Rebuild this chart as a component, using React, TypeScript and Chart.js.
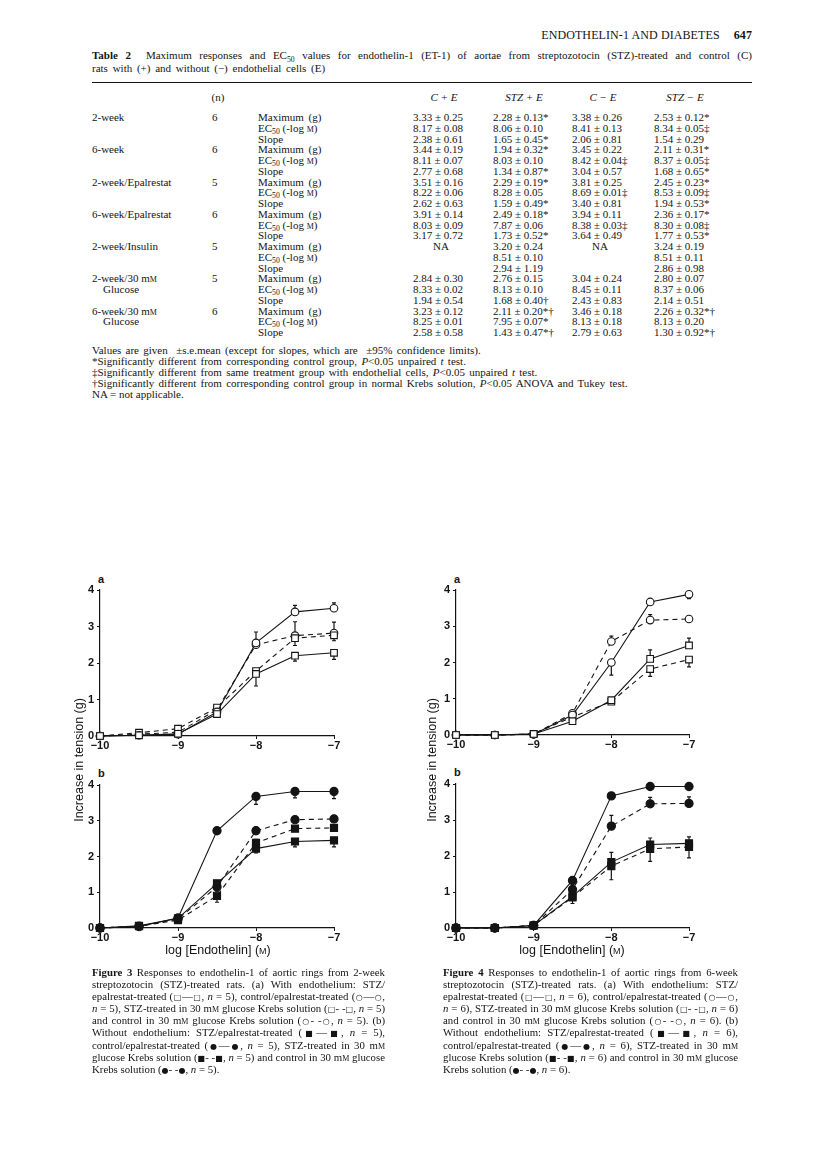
import React, { useEffect, useRef } from "react";
import { Chart, registerables } from "chart.js";
Chart.register(...registerables);

// ---------- chart data ----------
const logConc = [-10, -9.5, -9, -8.5, -8, -7.5, -7];
const xTickValues = [-10, -9, -8, -7];
const yTickValues = [0, 1, 2, 3, 4];

// Figure 3a: 2-week, with endothelium (signed error: + up, - down)
const f3aStzEpal = [0, 0.02, 0.06, 0.6, 1.7, 2.2, 2.28];
const f3aStzEpalErr = [0, 0, 0, 0, -0.33, -0.15, -0.18];
const f3aConEpal = [0, 0.02, 0.05, 0.66, 2.55, 3.4, 3.5];
const f3aConEpalErr = [0, 0, 0, 0, 0.3, 0.18, 0.15];
const f3aStzGlu = [0, 0.09, 0.2, 0.78, 1.78, 2.68, 2.76];
const f3aStzGluErr = [0, 0, 0, 0, 0, -0.2, -0.15];
const f3aConGlu = [0, 0.05, 0.1, 0.72, 2.5, 2.75, 2.82];
const f3aConGluErr = [0, 0, 0, 0, 0, 0.38, 0.3];

// Figure 3b: 2-week, without endothelium
const f3bStzEpal = [0, 0.06, 0.27, 1.25, 2.22, 2.42, 2.45];
const f3bStzEpalErr = [0, 0, 0, -0.12, -0.12, -0.15, -0.18];
const f3bConEpal = [0, 0.04, 0.28, 2.72, 3.68, 3.82, 3.82];
const f3bConEpalErr = [0, 0, 0, -0.1, -0.22, -0.18, -0.2];
const f3bStzGlu = [0, 0.05, 0.22, 0.9, 2.38, 2.78, 2.8];
const f3bStzGluErr = [0, 0, 0, -0.18, 0.1, 0, 0];
const f3bConGlu = [0, 0.05, 0.25, 1.15, 2.72, 3.03, 3.05];
const f3bConGluErr = [0, 0, 0, -0.12, 0.1, 0, 0];

// Figure 4a: 6-week, with endothelium
const f4aStzEpal = [0, 0, 0.03, 0.38, 0.96, 2.1, 2.47];
const f4aStzEpalErr = [0, 0, 0, 0, 0, 0.25, 0.2];
const f4aConEpal = [0, 0, 0.02, 0.55, 2.0, 3.67, 3.88];
const f4aConEpalErr = [0, 0, 0, 0, -0.35, 0, -0.12];
const f4aStzGlu = [0, 0, 0.03, 0.5, 0.92, 1.82, 2.08];
const f4aStzGluErr = [0, 0, 0, 0, 0, -0.2, -0.2];
const f4aConGlu = [0, 0, 0.02, 0.6, 2.58, 3.17, 3.2];
const f4aConGluErr = [0, 0, 0, 0, 0.15, 0.15, 0];

// Figure 4b: 6-week, without endothelium
const f4bStzEpal = [0, 0, 0.07, 0.88, 1.83, 2.32, 2.35];
const f4bStzEpalErr = [0, 0, 0, -0.2, 0.27, 0.18, 0.18];
const f4bConEpal = [0, 0, 0.07, 1.32, 3.67, 3.93, 3.93];
const f4bConEpalErr = [0, 0, 0, 0, 0, 0, 0];
const f4bStzGlu = [0, 0, 0.07, 0.85, 1.72, 2.2, 2.25];
const f4bStzGluErr = [0, 0, 0, 0, -0.38, -0.35, -0.3];
const f4bConGlu = [0, 0, 0.07, 1.07, 2.83, 3.45, 3.46];
const f4bConGluErr = [0, 0, 0, 0, 0.3, 0.18, 0.18];

// ---------- table data ----------
const groupLabels = ["2-week", "6-week", "2-week/Epalrestat", "6-week/Epalrestat", "2-week/Insulin", "2-week/30 mM", "6-week/30 mM"];
const groupSubLabels = ["", "", "", "", "", "Glucose", "Glucose"];
const groupN = ["6", "6", "5", "6", "5", "5", "6"];
const paramLabels = ["Maximum  (g)", "EC50 (-log M)", "Slope"];
const columnHeads = ["C + E", "STZ + E", "C \u2212 E", "STZ \u2212 E"];
const colCplusE = [
  "3.33 ± 0.25", "8.17 ± 0.08", "2.38 ± 0.61",
  "3.44 ± 0.19", "8.11 ± 0.07", "2.77 ± 0.68",
  "3.51 ± 0.16", "8.22 ± 0.06", "2.62 ± 0.63",
  "3.91 ± 0.14", "8.03 ± 0.09", "3.17 ± 0.72",
  "NA", "", "",
  "2.84 ± 0.30", "8.33 ± 0.02", "1.94 ± 0.54",
  "3.23 ± 0.12", "8.25 ± 0.01", "2.58 ± 0.58",
];
const colSTZplusE = [
  "2.28 ± 0.13*", "8.06 ± 0.10", "1.65 ± 0.45*",
  "1.94 ± 0.32*", "8.03 ± 0.10", "1.34 ± 0.87*",
  "2.29 ± 0.19*", "8.28 ± 0.05", "1.59 ± 0.49*",
  "2.49 ± 0.18*", "7.87 ± 0.06", "1.73 ± 0.52*",
  "3.20 ± 0.24", "8.51 ± 0.10", "2.94 ± 1.19",
  "2.76 ± 0.15", "8.13 ± 0.10", "1.68 ± 0.40†",
  "2.11 ± 0.20*†", "7.95 ± 0.07*", "1.43 ± 0.47*†",
];
const colCminusE = [
  "3.38 ± 0.26", "8.41 ± 0.13", "2.06 ± 0.81",
  "3.45 ± 0.22", "8.42 ± 0.04‡", "3.04 ± 0.57",
  "3.81 ± 0.25", "8.69 ± 0.01‡", "3.40 ± 0.81",
  "3.94 ± 0.11", "8.38 ± 0.03‡", "3.64 ± 0.49",
  "NA", "", "",
  "3.04 ± 0.24", "8.45 ± 0.11", "2.43 ± 0.83",
  "3.46 ± 0.18", "8.13 ± 0.18", "2.79 ± 0.63",
];
const colSTZminusE = [
  "2.53 ± 0.12*", "8.34 ± 0.05‡", "1.54 ± 0.29",
  "2.11 ± 0.31*", "8.37 ± 0.05‡", "1.68 ± 0.65*",
  "2.45 ± 0.23*", "8.53 ± 0.09‡", "1.94 ± 0.53*",
  "2.36 ± 0.17*", "8.30 ± 0.08‡", "1.77 ± 0.53*",
  "3.24 ± 0.19", "8.51 ± 0.11", "2.86 ± 0.98",
  "2.80 ± 0.07", "8.37 ± 0.06", "2.14 ± 0.51",
  "2.26 ± 0.32*†", "8.13 ± 0.20", "1.30 ± 0.92*†",
];

const fig3Caption = [
  "Figure 3  Responses to endothelin-1 of aortic rings from 2-week",
  "streptozotocin (STZ)-treated rats. (a) With endothelium: STZ/",
  "epalrestat-treated (□—□, n = 5), control/epalrestat-treated (○—○,",
  "n = 5), STZ-treated in 30 mM glucose Krebs solution (□- -□, n = 5)",
  "and control in 30 mM glucose Krebs solution (○- -○, n = 5). (b)",
  "Without endothelium: STZ/epalrestat-treated (■—■, n = 5),",
  "control/epalrestat-treated (●—●, n = 5), STZ-treated in 30 mM",
  "glucose Krebs solution (■- -■, n = 5) and control in 30 mM glucose",
  "Krebs solution (●- -●, n = 5).",
];
const fig4Caption = [
  "Figure 4  Responses to endothelin-1 of aortic rings from 6-week",
  "streptozotocin (STZ)-treated rats. (a) With endothelium: STZ/",
  "epalrestat-treated (□—□, n = 6), control/epalrestat-treated (○—○,",
  "n = 6), STZ-treated in 30 mM glucose Krebs solution (□- -□, n = 6)",
  "and control in 30 mM glucose Krebs solution (○- -○, n = 6). (b)",
  "Without endothelium: STZ/epalrestat-treated (■—■, n = 6),",
  "control/epalrestat-treated (●—●, n = 6), STZ-treated in 30 mM",
  "glucose Krebs solution (■- -■, n = 6) and control in 30 mM glucose",
  "Krebs solution (●- -●, n = 6).",
];

// ---------- chart helpers ----------
type Series = { values: number[]; errors: number[]; shape: "circle" | "rect"; filled: boolean; dashed: boolean };

const mk = (values: number[], errors: number[], shape: "circle" | "rect", filled: boolean, dashed: boolean): Series => ({ values, errors, shape, filled, dashed });

const fig3a = [mk(f3aStzEpal, f3aStzEpalErr, "rect", false, false), mk(f3aConEpal, f3aConEpalErr, "circle", false, false), mk(f3aStzGlu, f3aStzGluErr, "rect", false, true), mk(f3aConGlu, f3aConGluErr, "circle", false, true)];
const fig3b = [mk(f3bStzEpal, f3bStzEpalErr, "rect", true, false), mk(f3bConEpal, f3bConEpalErr, "circle", true, false), mk(f3bStzGlu, f3bStzGluErr, "rect", true, true), mk(f3bConGlu, f3bConGluErr, "circle", true, true)];
const fig4a = [mk(f4aStzEpal, f4aStzEpalErr, "rect", false, false), mk(f4aConEpal, f4aConEpalErr, "circle", false, false), mk(f4aStzGlu, f4aStzGluErr, "rect", false, true), mk(f4aConGlu, f4aConGluErr, "circle", false, true)];
const fig4b = [mk(f4bStzEpal, f4bStzEpalErr, "rect", true, false), mk(f4bConEpal, f4bConEpalErr, "circle", true, false), mk(f4bStzGlu, f4bStzGluErr, "rect", true, true), mk(f4bConGlu, f4bConGluErr, "circle", true, true)];

const INK = "#141414";

const errorBarPlugin = {
  id: "errorBars",
  beforeDatasetsDraw(chart: any) {
    const ctx = chart.ctx;
    const xs = chart.scales.x;
    const ys = chart.scales.y;
    chart.data.datasets.forEach((ds: any) => {
      const errs: number[] = ds.errorBars;
      if (!errs) return;
      ds.data.forEach((p: any, i: number) => {
        const e = errs[i];
        if (!e) return;
        const px = xs.getPixelForValue(p.x);
        const y0 = ys.getPixelForValue(p.y);
        const y1 = ys.getPixelForValue(p.y + e);
        ctx.save();
        ctx.setLineDash([]);
        ctx.strokeStyle = INK;
        ctx.lineWidth = 1.2;
        ctx.beginPath();
        ctx.moveTo(px, y0);
        ctx.lineTo(px, y1);
        ctx.moveTo(px - 2, y1);
        ctx.lineTo(px + 2, y1);
        ctx.stroke();
        ctx.restore();
      });
    });
  },
};

function Panel({ left, top, width, height, series }: { left: number; top: number; width: number; height: number; series: Series[] }) {
  const ref = useRef<HTMLCanvasElement | null>(null);
  const yAxisW = 32, xAxisH = 22;
  const padL = 42, padR = 16, padT = 14, padB = 24;
  const cw = width + padL + padR;
  const ch = height + padT + padB;
  useEffect(() => {
    if (!ref.current) return;
    const datasets = series.map((s) => ({
      data: logConc.map((x, i) => ({ x, y: s.values[i] })),
      errorBars: s.errors,
      borderColor: INK,
      borderWidth: 1.1,
      borderDash: s.dashed ? [5, 4] : [],
      pointStyle: s.shape,
      pointRadius: s.shape === "rect" ? (s.filled ? 5 : 4.7) : s.filled ? 4.1 : 3.8,
      pointBackgroundColor: s.filled ? INK : "#ffffff",
      pointBorderColor: INK,
      pointBorderWidth: 1.1,
      fill: false,
      tension: 0,
      clip: false,
    }));
    const tickFont = { family: '"Liberation Sans", Arial, sans-serif', size: 11 };
    const chart = new Chart(ref.current, {
      type: "line",
      data: { datasets } as any,
      options: {
        animation: false,
        responsive: false,
        events: [],
        layout: { padding: { left: padL - yAxisW, right: padR, top: padT, bottom: padB - xAxisH } },
        plugins: { legend: { display: false }, tooltip: { enabled: false } },
        scales: {
          x: {
            type: "linear",
            min: -10,
            max: -7,
            afterBuildTicks: (s: any) => {
              s.ticks = xTickValues.map((v) => ({ value: v }));
            },
            afterFit: (s: any) => {
              s.height = xAxisH;
            },
            grid: { display: true, drawOnChartArea: false, drawTicks: true, tickLength: 3, color: INK, lineWidth: 1 },
            border: { display: true, color: INK, width: 1.2 },
            ticks: {
              color: INK,
              font: { ...tickFont, weight: "bold" },
              padding: 0,
              maxRotation: 0,
              autoSkip: false,
              callback: (v: any) => (Number(v) < 0 ? "\u2212" + Math.abs(Number(v)) : String(v)),
            },
          },
          y: {
            min: 0,
            max: 4,
            afterBuildTicks: (s: any) => {
              s.ticks = yTickValues.map((v) => ({ value: v }));
            },
            afterFit: (s: any) => {
              s.width = yAxisW;
            },
            grid: { display: true, drawOnChartArea: false, drawTicks: true, tickLength: 3, color: INK, lineWidth: 1 },
            border: { display: true, color: INK, width: 1.2 },
            ticks: { color: INK, font: { ...tickFont, weight: "bold" }, padding: 3 },
          },
        },
      } as any,
      plugins: [errorBarPlugin as any],
    });
    return () => chart.destroy();
  }, []);
  return (
    <canvas
      ref={ref}
      width={cw}
      height={ch}
      style={{ position: "absolute", left: left - padL, top: top - padT, width: cw, height: ch }}
    />
  );
}

// ---------- text helpers ----------
const SC = ({ children }: { children: any }) => <span style={{ fontVariant: "small-caps" }}>{children}</span>;

function rich(str: string) {
  const parts = str.split(/(mM|Figure \d|(?<![A-Za-z])n(?= =)|[□○■●])/);
  return parts.map((p, i) => {
    if (p === "mM") return <span key={i}>m<SC>m</SC></span>;
    if (/^Figure \d$/.test(p)) return <b key={i}>{p}</b>;
    if (p === "n") return <i key={i}>n</i>;
    if (/^[□○■●]$/.test(p))
      return (
        <span key={i} style={{ fontFamily: '"DejaVu Sans", sans-serif', fontSize: "0.74em", lineHeight: 0, verticalAlign: "baseline" }}>
          {p}
        </span>
      );
    return <span key={i}>{p}</span>;
  });
}

function paramLabel(i: number) {
  if (i === 1)
    return (
      <span>
        EC<sub style={{ fontSize: "0.7em", verticalAlign: "-0.25em", lineHeight: 0 }}>50</sub> (-log <SC>m</SC>)
      </span>
    );
  return <span style={{ wordSpacing: "2px" }}>{paramLabels[i]}</span>;
}

function JustLines({ lines, left, top, width, lh, size }: { lines: string[]; left: number; top: number; width: number; lh: number; size: number }) {
  return (
    <div style={{ position: "absolute", left, top, width, fontSize: size }}>
      {lines.map((l, i) => (
        <div
          key={i}
          style={{
            height: lh,
            lineHeight: lh + "px",
            whiteSpace: "nowrap",
            textAlign: i === lines.length - 1 ? "left" : "justify",
            textAlignLast: i === lines.length - 1 ? "left" : "justify",
          }}
        >
          {rich(l)}
        </div>
      ))}
    </div>
  );
}

export default function App() {
  const rowTop = 112;
  const rowH = 10.75;
  const valueCols = [colCplusE, colSTZplusE, colCminusE, colSTZminusE];
  const valueLefts = [413, 493, 572, 654];
  const colW = 62;
  const sans = '"Liberation Sans", Arial, sans-serif';
  return (
    <div
      style={{
        position: "absolute",
        left: 0,
        top: 0,
        width: 816,
        height: 1162,
        background: "#ffffff",
        color: INK,
        fontFamily: '"Liberation Serif", "Times New Roman", serif',
        overflow: "hidden",
      }}
    >
      {/* running header */}
      <div style={{ position: "absolute", right: 64, top: 28, fontSize: 12, letterSpacing: 0.1 }}>
        ENDOTHELIN-1 AND DIABETES<b style={{ marginLeft: 14 }}>647</b>
      </div>

      {/* table caption */}
      <div style={{ position: "absolute", left: 92, top: 49, width: 660, fontSize: 11, lineHeight: "12.5px" }}>
        <div style={{ whiteSpace: "nowrap", textAlign: "justify", textAlignLast: "justify" }}>
          <b>Table 2</b>&nbsp; Maximum responses and EC<sub style={{ fontSize: "0.7em", lineHeight: 0 }}>50</sub> values for endothelin-1 (ET-1) of aortae from streptozotocin (STZ)-treated and control (C)
        </div>
        <div style={{ whiteSpace: "nowrap", wordSpacing: "2px" }}>rats with (+) and without (−) endothelial cells (E)</div>
      </div>
      <div style={{ position: "absolute", left: 92, top: 82, width: 660, height: 1.4, background: INK }} />

      {/* column heads */}
      <div style={{ position: "absolute", left: 200, top: 91, width: 36, textAlign: "center", fontSize: 11 }}>(n)</div>
      {columnHeads.map((h, i) => (
        <div key={h} style={{ position: "absolute", left: valueLefts[i], top: 91, width: colW, textAlign: "center", fontSize: 11, fontStyle: "italic" }}>
          {h}
        </div>
      ))}

      {/* table body */}
      {groupLabels.map((g, gi) => (
        <React.Fragment key={g}>
          <div style={{ position: "absolute", left: 92, top: rowTop + gi * 3 * rowH, fontSize: 11, lineHeight: rowH + "px", whiteSpace: "nowrap" }}>
            {rich(g)}
          </div>
          {groupSubLabels[gi] && (
            <div style={{ position: "absolute", left: 103, top: rowTop + (gi * 3 + 1) * rowH, fontSize: 11, lineHeight: rowH + "px" }}>
              {groupSubLabels[gi]}
            </div>
          )}
          <div style={{ position: "absolute", left: 212, top: rowTop + gi * 3 * rowH, fontSize: 11, lineHeight: rowH + "px" }}>{groupN[gi]}</div>
          {[0, 1, 2].map((pi) => (
            <div key={pi} style={{ position: "absolute", left: 258, top: rowTop + (gi * 3 + pi) * rowH, fontSize: 11, lineHeight: rowH + "px", whiteSpace: "nowrap" }}>
              {paramLabel(pi)}
            </div>
          ))}
        </React.Fragment>
      ))}
      {valueCols.map((col, ci) =>
        col.map((v, ri) =>
          v ? (
            <div
              key={ci + "-" + ri}
              style={{
                position: "absolute",
                left: valueLefts[ci],
                width: v === "NA" ? colW - 6 : undefined,
                textAlign: v === "NA" ? "center" : "left",
                top: rowTop + ri * rowH,
                fontSize: 11,
                lineHeight: rowH + "px",
                whiteSpace: "nowrap",
              }}
            >
              {v}
            </div>
          ) : null
        )
      )}

      {/* footnotes */}
      <div style={{ position: "absolute", left: 92, top: 345, fontSize: 11, lineHeight: "11px", whiteSpace: "nowrap" }}>
        <div style={{ wordSpacing: "1.5px" }}>Values are given &nbsp;±s.e.mean (except for slopes, which are &nbsp;±95% confidence limits).</div>
        <div style={{ wordSpacing: "1.5px" }}>*Significantly different from corresponding control group, <i>P</i>&lt;0.05 unpaired <i>t</i> test.</div>
        <div style={{ wordSpacing: "1.5px" }}>‡Significantly different from same treatment group with endothelial cells, <i>P</i>&lt;0.05 unpaired <i>t</i> test.</div>
        <div style={{ wordSpacing: "1.5px" }}>†Significantly different from corresponding control group in normal Krebs solution, <i>P</i>&lt;0.05 ANOVA and Tukey test.</div>
        <div>NA = not applicable.</div>
      </div>

      {/* Figure 3 */}
      <div style={{ position: "absolute", left: 98, top: 573, fontSize: 11, fontWeight: "bold", fontFamily: sans }}>a</div>
      <div style={{ position: "absolute", left: 98, top: 767, fontSize: 11, fontWeight: "bold", fontFamily: sans }}>b</div>
      <Panel left={100} top={590} width={234} height={146} series={fig3a} />
      <Panel left={100} top={785} width={234} height={143} series={fig3b} />
      <div style={{ position: "absolute", left: 79 - 80, top: 760 - 8, width: 160, height: 16, textAlign: "center", fontFamily: sans, fontSize: 12.5, lineHeight: "16px", transform: "rotate(-90deg)", transformOrigin: "50% 50%" }}>
        Increase in tension (g)
      </div>
      <div style={{ position: "absolute", left: 218 - 80, top: 943, width: 160, textAlign: "center", fontFamily: sans, fontSize: 12.5, lineHeight: "14px" }}>
        log [Endothelin] (<SC>m</SC>)
      </div>

      {/* Figure 4 */}
      <div style={{ position: "absolute", left: 454, top: 573, fontSize: 11, fontWeight: "bold", fontFamily: sans }}>a</div>
      <div style={{ position: "absolute", left: 454, top: 766, fontSize: 11, fontWeight: "bold", fontFamily: sans }}>b</div>
      <Panel left={456} top={590} width={233} height={145} series={fig4a} />
      <Panel left={456} top={784} width={233} height={144} series={fig4b} />
      <div style={{ position: "absolute", left: 432 - 80, top: 760 - 8, width: 160, height: 16, textAlign: "center", fontFamily: sans, fontSize: 12.5, lineHeight: "16px", transform: "rotate(-90deg)", transformOrigin: "50% 50%" }}>
        Increase in tension (g)
      </div>
      <div style={{ position: "absolute", left: 572 - 80, top: 943, width: 160, textAlign: "center", fontFamily: sans, fontSize: 12.5, lineHeight: "14px" }}>
        log [Endothelin] (<SC>m</SC>)
      </div>

      {/* captions */}
      <JustLines lines={fig3Caption} left={92} top={966} width={293} lh={12.1} size={10.8} />
      <JustLines lines={fig4Caption} left={443} top={966} width={295} lh={12.1} size={10.8} />
    </div>
  );
}
